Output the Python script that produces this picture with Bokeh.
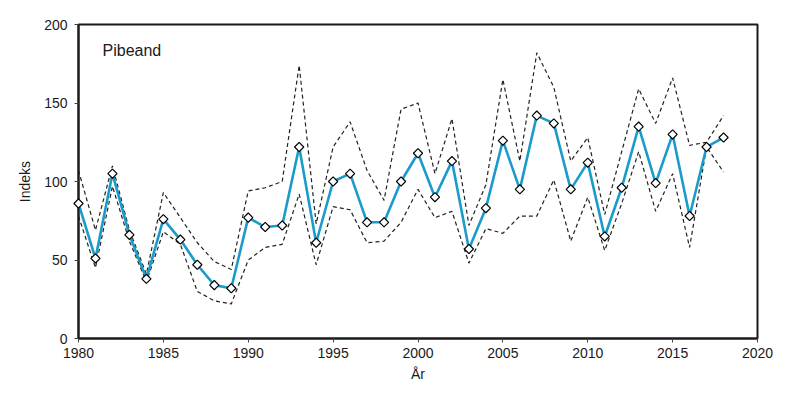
import math
from bokeh.plotting import figure
from bokeh.models import ColumnDataSource, Range1d, FixedTicker, Label
from bokeh.embed import file_html
from bokeh.resources import INLINE

years = list(range(1980, 2019))
index = [86, 51, 105, 66, 38, 76, 63, 47, 34, 32,
         77, 71, 72, 122, 61, 100, 105, 74, 74, 100,
         118, 90, 113, 57, 83, 126, 95, 142, 137, 95,
         112, 65, 96, 135, 99, 130, 78, 122, 128]
upper = [107, 69, 110, 69, 41, 93, 77, 61, 49, 44,
         94, 96, 100, 174, 73, 122, 138, 107, 88, 146,
         150, 105, 140, 72, 98, 165, 113, 182, 160, 113,
         128, 79, 119, 159, 137, 166, 123, 125, 142]
lower = [78, 45, 97, 62, 36, 68, 60, 30, 24, 22,
         50, 58, 60, 92, 47, 84, 82, 61, 62, 74,
         95, 77, 81, 48, 70, 67, 78, 78, 101, 62,
         90, 56, 86, 119, 81, 105, 58, 122, 106]
x_ticks = [1980, 1985, 1990, 1995, 2000, 2005, 2010, 2015, 2020]
y_ticks = [0, 50, 100, 150, 200]

src = ColumnDataSource(dict(x=years, y=index, up=upper, lo=lower))

FONT = "Liberation Sans"
p = figure(width=784, height=385, output_backend="svg", toolbar_location=None,
           x_range=Range1d(1980, 2020), y_range=Range1d(0, 200),
           min_border_left=78, min_border_right=27, min_border_top=24, min_border_bottom=47,
           frame_width=679, frame_height=314)
p.grid.visible = False
p.outline_line_color = "#1a1a1a"
p.outline_line_width = 2
p.background_fill_color = "white"
p.border_fill_color = "white"

p.line("x", "up", source=src, line_color="#222222", line_width=1.2, line_dash="4 3")
p.line("x", "lo", source=src, line_color="#222222", line_width=1.2, line_dash="4 3")
p.line("x", "y", source=src, line_color="#1a9bc9", line_width=2.6)
p.scatter("x", "y", source=src, marker="square", angle=math.pi / 4, size=6.5,
          fill_color="white", line_color="black", line_width=1.2, level="overlay")

for ax in (p.xaxis[0], p.yaxis[0]):
    ax.axis_line_color = "#1a1a1a"
    ax.axis_line_width = 2
    ax.major_tick_line_color = "#444444"
    ax.major_tick_out = 4
    ax.major_tick_in = 0
    ax.minor_tick_out = 0
    ax.minor_tick_in = 0
    ax.major_label_text_font = FONT
    ax.major_label_text_font_size = "14px"
    ax.major_label_text_color = "#1a1a1a"
    ax.axis_label_text_font = FONT
    ax.axis_label_text_font_size = "14px"
    ax.axis_label_text_font_style = "normal"
    ax.axis_label_text_color = "#1a1a1a"

p.xaxis.ticker = FixedTicker(ticks=x_ticks)
p.yaxis.ticker = FixedTicker(ticks=y_ticks)
p.xaxis.axis_label = "År"
p.yaxis.axis_label = "Indeks"
p.xaxis.axis_label_standoff = 5
p.yaxis.axis_label_standoff = 8
p.xaxis.major_label_standoff = 5
p.yaxis.major_label_standoff = 7

p.add_layout(Label(x=24, y=288, x_units="screen", y_units="screen", text="Pibeand",
                   text_font=FONT, text_font_size="16px", text_color="#1a1a1a",
                   text_baseline="middle"))

open("out.html", "w").write(file_html(p, INLINE))
